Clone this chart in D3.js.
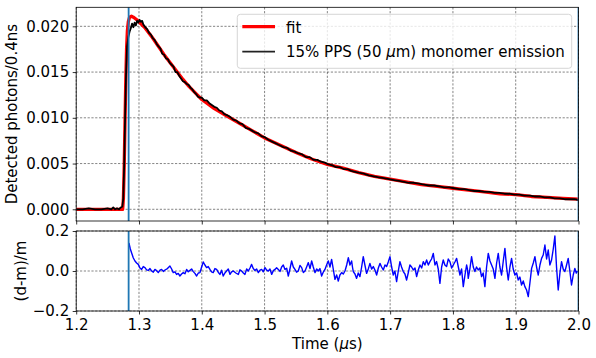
<html>
<head>
<meta charset="utf-8">
<script src="https://d3js.org/d3.v7.min.js"></script>
<style>
  body { margin: 0; background: #fff; }
  text { font-family: "DejaVu Sans", sans-serif; }
</style>
</head>
<body>
<script>
// ---- data ----
var xTicks = [1.2, 1.3, 1.4, 1.5, 1.6, 1.7, 1.8, 1.9, 2.0];
var yTicksTop = [0.000, 0.005, 0.010, 0.015, 0.020];
var yTicksBot = [-0.2, 0.0, 0.2];
var markerTimes = [1.2835, 2.0];
var legendLabels = ["fit", "15% PPS (50 ", "m) monomer emission"];

var fitPoints = [[1.2000,0],[1.2740,0],[1.2752,0.0012],[1.2765,0.0048],[1.2778,0.0098],[1.2790,0.0142],[1.2802,0.0175],
  [1.2815,0.0195],[1.2830,0.0205],[1.2850,0.0210],[1.2880,0.0211],[1.2910,0.0210],[1.2950,0.0208],[1.3000,0.0205],
  [1.3100,0.0198],[1.3200,0.0189],[1.3300,0.0179],[1.3400,0.0169],[1.3500,0.0160],[1.3600,0.0151],[1.3700,0.0142],
  [1.3800,0.0134],[1.3900,0.0127],[1.4000,0.0120],[1.4200,0.0110],[1.4400,0.0102],[1.4600,0.0094],[1.4800,0.0086],
  [1.5000,0.0078],[1.5250,0.0070],[1.5500,0.0062],[1.5750,0.0055],[1.6000,0.0049],[1.6250,0.0045],[1.6500,0.0040],
  [1.6750,0.0036],[1.7000,0.0033],[1.7250,0.0030],[1.7500,0.0027],[1.7750,0.0025],[1.8000,0.0023],[1.8250,0.0021],
  [1.8500,0.0019],[1.8750,0.0017],[1.9000,0.0016],[1.9250,0.0014],[1.9500,0.0013],[1.9750,0.0012],[2.0000,0.0011]];

var dataPoints = [[1.200,0.0000],[1.210,0.0000],[1.220,0.0001],[1.230,0.0000],[1.240,0.0000],[1.250,0.0001],[1.256,0.0000],
  [1.259,0.0002],[1.262,0.0000],[1.265,0.0001],[1.268,0.0000],[1.271,0.0002],[1.2735,0.0003],[1.2750,0.0012],[1.2765,0.0050],
  [1.2780,0.0105],[1.2795,0.0150],[1.2810,0.0178],[1.2830,0.0188],[1.2850,0.0194],[1.2870,0.0198],[1.2890,0.0203],
  [1.2910,0.0199],[1.2930,0.0204],[1.2950,0.0201],[1.2970,0.0206],[1.2990,0.0204],[1.3010,0.0207],[1.3030,0.0205],
  [1.3050,0.0206],[1.3070,0.0202],[1.3100,0.0199],[1.3130,0.0197],[1.3160,0.0193],[1.3190,0.0191],[1.3220,0.0187],
  [1.3250,0.0185],[1.3280,0.0181],[1.3310,0.0178],[1.3340,0.0176],[1.3370,0.0170],[1.3400,0.0169],[1.3430,0.0165],
  [1.3460,0.0164],[1.3490,0.0160],[1.3520,0.0158],[1.3550,0.0156],[1.3580,0.0150],[1.3610,0.0150],[1.3640,0.0146],
  [1.3670,0.0143],[1.3700,0.0140],[1.3730,0.0139],[1.3760,0.0137],[1.3790,0.0136],[1.3820,0.0133],[1.3850,0.0131],
  [1.3880,0.0128],[1.3910,0.0126],[1.3940,0.0123],[1.3970,0.0122],[1.4000,0.0122],[1.4040,0.0119],[1.4080,0.0119],
  [1.4120,0.0116],[1.4160,0.0114],[1.4200,0.0112],[1.4240,0.0111],[1.4280,0.0108],[1.4320,0.0107],[1.4360,0.0104],
  [1.4400,0.0103],[1.4450,0.0101],[1.4500,0.0098],[1.4550,0.0097],[1.4600,0.0094],[1.4650,0.0093],[1.4700,0.0089],
  [1.4750,0.0088],[1.4800,0.0086],[1.4850,0.0084],[1.4900,0.0083],[1.4950,0.0080],[1.5000,0.0079],[1.5060,0.0076],
  [1.5120,0.0074],[1.5180,0.0072],[1.5240,0.0070],[1.5300,0.0068],[1.5360,0.0067],[1.5420,0.0064],[1.5480,0.0063],
  [1.5540,0.0061],[1.5600,0.0060],[1.5660,0.0057],[1.5720,0.0057],[1.5780,0.0054],[1.5840,0.0054],[1.5900,0.0052],
  [1.5960,0.0051],[1.6020,0.0049],[1.6080,0.0048],[1.6140,0.0046],[1.6200,0.0046],[1.6260,0.0044],[1.6320,0.0044],
  [1.6380,0.0042],[1.6440,0.0041],[1.6500,0.0040],[1.6580,0.0039],[1.6660,0.0037],[1.6740,0.0036],[1.6820,0.0035],
  [1.6900,0.0034],[1.6980,0.0033],[1.7060,0.0032],[1.7140,0.0031],[1.7220,0.0030],[1.7300,0.0029],[1.7380,0.0029],
  [1.7460,0.0028],[1.7540,0.0027],[1.7620,0.0026],[1.7700,0.0026],[1.7780,0.0025],[1.7860,0.0024],[1.7940,0.0024],
  [1.8020,0.0023],[1.8100,0.0022],[1.8180,0.0022],[1.8260,0.0021],[1.8340,0.0020],[1.8420,0.0020],[1.8500,0.0019],
  [1.8580,0.0019],[1.8660,0.0018],[1.8740,0.0018],[1.8820,0.0017],[1.8900,0.0017],[1.8980,0.0016],[1.9060,0.0016],
  [1.9140,0.0015],[1.9220,0.0015],[1.9300,0.0014],[1.9380,0.0014],[1.9460,0.0013],[1.9540,0.0013],[1.9620,0.0012],
  [1.9700,0.0012],[1.9780,0.0011],[1.9860,0.0011],[1.9940,0.0011],[2.0000,0.0010]];

var residPoints = [[1.2840,0.14],[1.2862,0.11],[1.2883,0.09],[1.2910,0.065],[1.2936,0.05],[1.2962,0.04],[1.2989,0.033],
  [1.3015,0.015],[1.3042,0.008],[1.3068,0.022],[1.3095,0.017],[1.3121,0.006],[1.3148,0.003],[1.3175,0.012],[1.3201,0.0],
  [1.3228,-0.006],[1.3254,0.008],[1.3280,0.002],[1.3307,-0.008],[1.3334,0.004],[1.3360,0.008],[1.3387,-0.002],[1.3414,0.005],
  [1.3453,0.012],[1.3493,0.025],[1.3520,0.010],[1.3546,-0.008],[1.3573,-0.004],[1.3599,-0.017],[1.3625,-0.012],[1.3652,-0.025],
  [1.3678,-0.015],[1.3705,-0.008],[1.3732,-0.014],[1.3759,0.008],[1.3785,-0.004],[1.3812,0.003],[1.3838,0.010],[1.3865,-0.003],
  [1.3891,-0.012],[1.3918,-0.025],[1.3945,-0.010],[1.3971,-0.008],[1.3998,0.020],[1.4024,0.045],[1.4050,0.030],[1.4077,0.017],
  [1.4103,0.022],[1.4130,0.008],[1.4156,-0.004],[1.4183,-0.008],[1.4210,0.012],[1.4236,0.008],[1.4262,-0.006],[1.4289,-0.017],
  [1.4315,0.004],[1.4342,-0.025],[1.4368,-0.010],[1.4395,0.0],[1.4422,0.010],[1.4449,-0.017],[1.4475,-0.004],[1.4502,0.0],
  [1.4542,-0.010],[1.4582,-0.017],[1.4608,0.006],[1.4635,0.0],[1.4662,-0.010],[1.4688,-0.017],[1.4715,0.010],[1.4741,0.0],
  [1.4768,0.015],[1.4794,0.033],[1.4820,0.012],[1.4847,0.003],[1.4874,0.010],[1.4901,-0.008],[1.4927,0.004],[1.4954,0.008],
  [1.4980,-0.004],[1.5007,0.017],[1.5034,0.004],[1.5060,0.0],[1.5086,0.010],[1.5113,-0.017],[1.5140,0.002],[1.5166,0.008],
  [1.5192,0.016],[1.5219,0.008],[1.5246,-0.002],[1.5272,0.02],[1.5298,0.030],[1.5325,0.008],[1.5352,0.014],[1.5378,-0.025],
  [1.5404,0.010],[1.5431,0.05],[1.5458,0.020],[1.5484,0.008],[1.5510,-0.006],[1.5537,0.0],[1.5564,0.028],[1.5591,0.017],
  [1.5618,-0.008],[1.5644,0.0],[1.5670,0.020],[1.5697,0.042],[1.5724,0.012],[1.5750,0.05],[1.5776,0.020],[1.5803,-0.008],
  [1.5830,0.010],[1.5856,0.0],[1.5882,0.012],[1.5909,-0.025],[1.5936,-0.005],[1.5962,0.008],[1.5988,0.030],[1.6015,0.05],
  [1.6042,0.020],[1.6068,0.058],[1.6094,0.010],[1.6121,-0.042],[1.6148,-0.020],[1.6174,-0.05],[1.6200,-0.020],[1.6228,-0.008],
  [1.6254,-0.015],[1.6281,0.0],[1.6308,0.030],[1.6334,0.067],[1.6360,0.030],[1.6387,0.05],[1.6400,0.020],[1.6413,-0.003],
  [1.6440,-0.015],[1.6466,-0.037],[1.6492,-0.010],[1.6519,-0.028],[1.6546,0.020],[1.6572,0.072],[1.6598,0.030],[1.6625,-0.012],
  [1.6652,0.010],[1.6678,0.038],[1.6705,0.010],[1.6732,0.022],[1.6758,0.005],[1.6785,-0.02],[1.6812,0.015],[1.6838,0.038],
  [1.6864,0.020],[1.6891,0.005],[1.6918,0.030],[1.6944,0.022],[1.6970,0.045],[1.6997,0.072],[1.7024,0.020],[1.7050,-0.02],
  [1.7076,0.000],[1.7103,-0.053],[1.7130,0.000],[1.7156,0.047],[1.7182,0.020],[1.7209,-0.003],[1.7236,-0.015],[1.7262,-0.045],
  [1.7288,-0.010],[1.7315,0.03],[1.7342,0.020],[1.7369,0.005],[1.7396,0.015],[1.7422,-0.028],[1.7448,0.005],[1.7475,0.03],
  [1.7502,0.015],[1.7528,0.047],[1.7554,0.030],[1.7581,0.055],[1.7608,0.030],[1.7634,0.047],[1.7660,0.060],[1.7687,0.088],
  [1.7714,0.030],[1.7740,0.047],[1.7766,0.010],[1.7793,-0.062],[1.7820,0.020],[1.7846,0.055],[1.7872,0.030],[1.7899,0.022],
  [1.7926,0.060],[1.7952,0.047],[1.7980,0.015],[1.8006,0.03],[1.8032,0.045],[1.8059,0.063],[1.8086,0.020],[1.8112,-0.02],
  [1.8138,0.010],[1.8165,-0.078],[1.8192,-0.020],[1.8218,0.03],[1.8231,0.010],[1.8244,-0.037],[1.8270,0.010],[1.8297,0.072],
  [1.8324,0.020],[1.8350,-0.003],[1.8376,0.020],[1.8403,0.005],[1.8430,0.015],[1.8456,-0.028],[1.8482,-0.010],[1.8509,-0.078],
  [1.8536,0.020],[1.8563,0.088],[1.8590,0.050],[1.8616,0.03],[1.8642,0.010],[1.8669,-0.037],[1.8696,0.040],[1.8722,0.088],
  [1.8748,0.020],[1.8775,-0.02],[1.8802,0.050],[1.8828,0.113],[1.8854,0.020],[1.8881,-0.045],[1.8908,0.020],[1.8934,0.063],
  [1.8960,0.010],[1.8987,-0.02],[1.9014,-0.010],[1.9040,-0.045],[1.9066,-0.030],[1.9093,-0.07],[1.9120,-0.050],[1.9146,-0.078],
  [1.9173,-0.095],[1.9200,-0.128],[1.9226,-0.060],[1.9253,0.013],[1.9280,0.040],[1.9306,0.072],[1.9332,0.020],[1.9359,-0.02],
  [1.9386,0.030],[1.9412,0.063],[1.9438,0.080],[1.9465,0.13],[1.9492,0.060],[1.9518,0.105],[1.9544,0.030],[1.9571,0.055],
  [1.9598,0.110],[1.9624,0.175],[1.9650,0.020],[1.9677,-0.095],[1.9704,-0.010],[1.9730,0.047],[1.9756,0.010],[1.9783,-0.003],
  [1.9810,0.030],[1.9836,0.063],[1.9862,0.000],[1.9889,-0.07],[1.9916,-0.020],[1.9942,0.013],[1.9964,-0.010],[1.9985,0.0]];

// ---- layout ----
var W = 596, H = 358;
var left = 76.2, right = 578.5;
var top1 = 7.3, bot1 = 221, top2 = 231, bot2 = 311;
var fs = "15px";

var svg = d3.select("body").append("svg").attr("width", W).attr("height", H);

var x = d3.scaleLinear().domain([1.2, 2.0]).range([left, right]);
var y1 = d3.scaleLinear().domain([-0.00128, 0.02208]).range([bot1, top1]);
var y2 = d3.scaleLinear().domain([-0.2, 0.2]).range([bot2, top2]);

var defs = svg.append("defs");
defs.append("clipPath").attr("id", "c1").append("rect")
  .attr("x", left).attr("y", top1).attr("width", right - left).attr("height", bot1 - top1);
defs.append("clipPath").attr("id", "c2").append("rect")
  .attr("x", left).attr("y", top2).attr("width", right - left).attr("height", bot2 - top2);

function grid(g, yScale, yTicks, t, b) {
  xTicks.forEach(function (v) {
    g.append("line").attr("x1", x(v)).attr("x2", x(v)).attr("y1", t).attr("y2", b)
      .attr("stroke", "#333").attr("stroke-width", 0.6).attr("stroke-dasharray", "2.2,1.6");
  });
  yTicks.forEach(function (v) {
    g.append("line").attr("x1", left).attr("x2", right).attr("y1", yScale(v)).attr("y2", yScale(v))
      .attr("stroke", "#333").attr("stroke-width", 0.6).attr("stroke-dasharray", "2.2,1.6");
  });
}

var g1 = svg.append("g");
var g2 = svg.append("g");
grid(g1, y1, yTicksTop, top1, bot1);
grid(g2, y2, yTicksBot, top2, bot2);

var line1 = d3.line().x(function (d) { return x(d[0]); }).y(function (d) { return y1(d[1]); });
var line2 = d3.line().x(function (d) { return x(d[0]); }).y(function (d) { return y2(d[1]); });

var p1 = g1.append("g").attr("clip-path", "url(#c1)");
p1.append("path").attr("d", line1(fitPoints)).attr("fill", "none")
  .attr("stroke", "#ff0000").attr("stroke-width", 3.3).attr("stroke-linejoin", "round");
p1.append("path").attr("d", line1(dataPoints)).attr("fill", "none")
  .attr("stroke", "#000").attr("stroke-width", 1.8).attr("stroke-linejoin", "round");

var p2 = g2.append("g").attr("clip-path", "url(#c2)");
p2.append("path").attr("d", line2(residPoints)).attr("fill", "none")
  .attr("stroke", "#0000ff").attr("stroke-width", 1.4).attr("stroke-linejoin", "round");

// vertical marker lines
markerTimes.forEach(function (t) {
  [[top1, bot1, p1], [top2, bot2, p2]].forEach(function (a) {
    a[2].append("line").attr("x1", x(t)).attr("x2", x(t)).attr("y1", a[0]).attr("y2", a[1])
      .attr("stroke", "#1f77b4").attr("stroke-width", 1.8);
  });
});

// axes
var ax1 = g1.append("g").attr("transform", "translate(" + left + ",0)")
  .call(d3.axisLeft(y1).tickValues(yTicksTop).tickSize(3.5).tickPadding(3.5)
    .tickFormat(function (d) { return d.toFixed(3); }));
var ax1b = g1.append("g").attr("transform", "translate(0," + bot1 + ")")
  .call(d3.axisBottom(x).tickValues(xTicks).tickSize(3.5).tickFormat(""));
var ax2 = g2.append("g").attr("transform", "translate(" + left + ",0)")
  .call(d3.axisLeft(y2).tickValues(yTicksBot).tickSize(3.5).tickPadding(3.5)
    .tickFormat(function (d) { return d < 0 ? "\u2212" + Math.abs(d).toFixed(1) : Math.abs(d).toFixed(1); }));
var ax2b = g2.append("g").attr("transform", "translate(0," + bot2 + ")")
  .call(d3.axisBottom(x).tickValues(xTicks).tickSize(3.5).tickPadding(5)
    .tickFormat(function (d) { return d.toFixed(1); }));

[ax1, ax1b, ax2, ax2b].forEach(function (a) {
  a.select(".domain").remove();
  a.selectAll(".tick line").attr("stroke", "#000").attr("stroke-width", 0.8);
  a.selectAll(".tick text").attr("fill", "#000").style("font-size", fs).style("font-family", "DejaVu Sans");
});

// frames
[[top1, bot1], [top2, bot2]].forEach(function (a) {
  svg.append("rect").attr("x", left).attr("y", a[0]).attr("width", right - left).attr("height", a[1] - a[0])
    .attr("fill", "none").attr("stroke", "#000").attr("stroke-width", 0.8);
});

// axis labels
svg.append("text").attr("transform", "translate(17," + ((top1 + bot1) / 2) + ") rotate(-90)")
  .attr("text-anchor", "middle").style("font-size", fs).text("Detected photons/0.4ns");
svg.append("text").attr("transform", "translate(26," + ((top2 + bot2) / 2) + ") rotate(-90)")
  .attr("text-anchor", "middle").style("font-size", fs).text("(d-m)/m");
var xl = svg.append("text").attr("x", (left + right) / 2).attr("y", 349)
  .attr("text-anchor", "middle").style("font-size", fs);
xl.append("tspan").text("Time (");
xl.append("tspan").style("font-style", "italic").text("\u03bc");
xl.append("tspan").text("s)");

// legend
var lg = svg.append("g");
lg.append("rect").attr("x", 237.3).attr("y", 14.3).attr("width", 334.4).attr("height", 54)
  .attr("rx", 3).attr("fill", "#fff").attr("fill-opacity", 0.8).attr("stroke", "#ccc").attr("stroke-width", 0.8);
lg.append("line").attr("x1", 242.3).attr("x2", 275).attr("y1", 26.7).attr("y2", 26.7)
  .attr("stroke", "#ff0000").attr("stroke-width", 3.3);
lg.append("line").attr("x1", 242.3).attr("x2", 275).attr("y1", 51.7).attr("y2", 51.7)
  .attr("stroke", "#222").attr("stroke-width", 1.8);
lg.append("text").attr("x", 286).attr("y", 32.5).style("font-size", fs).text(legendLabels[0]);
var lt = lg.append("text").attr("x", 286).attr("y", 57.3).style("font-size", fs);
lt.append("tspan").text(legendLabels[1]);
lt.append("tspan").style("font-style", "italic").text("\u03bc");
lt.append("tspan").text(legendLabels[2]);
</script>
</body>
</html>
